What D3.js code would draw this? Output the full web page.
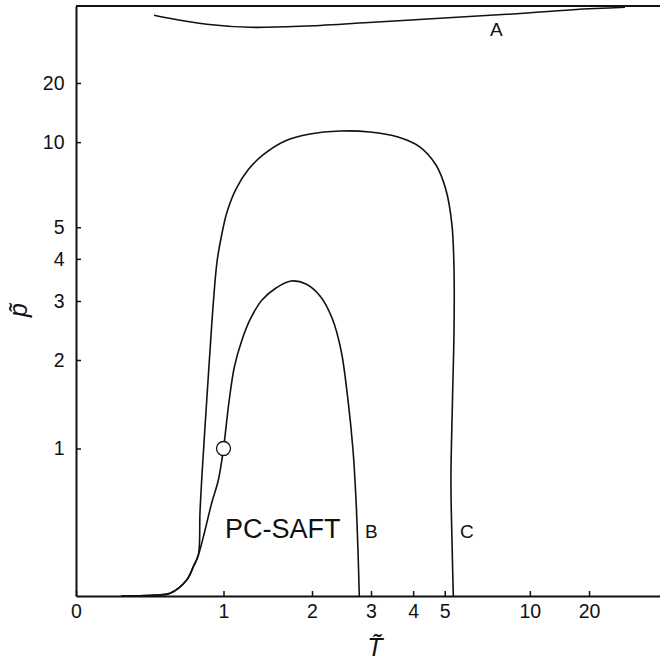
<!DOCTYPE html>
<html><head><meta charset="utf-8">
<script src="https://cdn.jsdelivr.net/npm/d3@7"></script>
<style>body{margin:0;background:#fff}svg{display:block}</style>
</head><body>
<svg id="chart" width="660" height="660"></svg>
<script>
// ---- data ----
const xTicks = [0, 1, 2, 3, 4, 5, 10, 20];
const yTicks = [1, 2, 3, 4, 5, 10, 20];

const lowT = [0.25, 0.30, 0.397, 0.475, 0.569, 0.693, 0.745, 0.785];
const lowP = [0, 0.0005, 0.002, 0.005, 0.014, 0.084, 0.157, 0.224];

const curveA_T = [0.457, 0.5925, 0.854, 1.255, 1.926, 3.041, 4.831, 8.11, 16.04, 40.2];
const curveA_p = [187, 133, 94, 80, 85.5, 106, 141, 210, 475, 1361];

const curveB_T = [0.84, 0.896, 0.954, 1.0, 1.048, 1.100, 1.170, 1.260, 1.381, 1.539, 1.72, 1.917, 2.116, 2.30, 2.446, 2.566, 2.655, 2.71, 2.746, 2.771];
const curveB_p = [0.378, 0.561, 0.734, 1.0, 1.45, 1.90, 2.28, 2.66, 3.02, 3.276, 3.436, 3.367, 3.104, 2.673, 2.145, 1.49, 0.987, 0.583, 0.254, 0];

const curveC_T = [0.798, 0.812, 0.854, 0.882, 0.912, 0.942, 0.978, 1.032, 1.116, 1.234, 1.392, 1.646, 1.972, 2.43, 2.98, 3.605, 4.196, 4.696, 5.045, 5.27, 5.35, 5.35, 5.29, 5.23, 5.27, 5.322];
const curveC_p = [0.491, 0.734, 1.49, 2.145, 3.02, 3.914, 4.63, 5.59, 6.67, 7.79, 8.88, 10.11, 10.83, 11.16, 11.05, 10.51, 9.55, 8.13, 6.62, 5.08, 3.70, 2.46, 1.49, 0.734, 0.315, 0];

const critPoint = [1, 1];

const labels = [
  {text: "A", T: 7.06, p: 55.9, size: 19, anchor: "start"},
  {text: "PC-SAFT", T: 1.013, p: 0.327, size: 27, anchor: "start"},
  {text: "B", T: 2.88, p: 0.327, size: 19, anchor: "start"},
  {text: "C", T: 5.59, p: 0.327, size: 19, anchor: "start"}
];

// ---- scales: v -> v/(v+3) ----
const K = 3;
function makeScale(lin) {
  const s = v => lin(v / (v + K));
  s.copy = () => makeScale(lin.copy());
  s.range = () => lin.range();
  s.domain = () => [0, Infinity];
  return s;
}
const xLin = d3.scaleLinear().domain([0, 1]).range([76, 666]);
const yLin = d3.scaleLinear().domain([0, 1]).range([596, 6]);
const x = makeScale(xLin);
const y = makeScale(yLin);

const svg = d3.select("#chart");
const FONT = "'Liberation Sans', Arial, Helvetica, sans-serif";

const zip = (a, b) => a.map((v, i) => [v, b[i]]);
const line = d3.line().x(d => x(d[0])).y(d => y(d[1])).curve(d3.curveCatmullRom.alpha(0.5));

const dataA = zip(curveA_T, curveA_p);
const dataB = zip(lowT, lowP).concat(zip(curveB_T, curveB_p));
const dataC = zip(lowT, lowP).concat(zip(curveC_T, curveC_p));

svg.selectAll("path.curve").data([dataA, dataB, dataC]).join("path")
  .attr("class", "curve")
  .attr("d", line)
  .attr("fill", "none")
  .attr("stroke", "#111")
  .attr("stroke-width", 1.6);

// top frame line
svg.append("line")
  .attr("x1", xLin.range()[0]).attr("x2", xLin.range()[1])
  .attr("y1", yLin.range()[1]).attr("y2", yLin.range()[1])
  .attr("stroke", "#111").attr("stroke-width", 2);

// axes
const gx = svg.append("g").attr("transform", `translate(0,${yLin.range()[0]})`)
  .call(d3.axisBottom(x).tickValues(xTicks).tickFormat(d3.format("d"))
    .tickSizeInner(-5).tickSizeOuter(0).tickPadding(8.5));
const gy = svg.append("g").attr("transform", `translate(${xLin.range()[0]},0)`)
  .call(d3.axisLeft(y).tickValues(yTicks).tickFormat(d3.format("d"))
    .tickSizeInner(-5).tickSizeOuter(0).tickPadding(11.5));
[gx, gy].forEach(g => {
  g.attr("font-family", FONT).attr("font-size", 19.5);
  g.select(".domain").attr("stroke", "#111").attr("stroke-width", 2);
  g.selectAll(".tick line").attr("stroke", "#111").attr("stroke-width", 1.5);
  g.selectAll(".tick text").attr("fill", "#111");
});

// critical point
svg.append("circle")
  .attr("cx", x(critPoint[0])).attr("cy", y(critPoint[1])).attr("r", 7)
  .attr("fill", "#fff").attr("stroke", "#111").attr("stroke-width", 1.3);

// labels
svg.selectAll("text.lbl").data(labels).join("text")
  .attr("class", "lbl")
  .attr("x", d => x(d.T)).attr("y", d => y(d.p))
  .attr("text-anchor", d => d.anchor)
  .attr("font-family", FONT).attr("font-size", d => d.size)
  .attr("fill", "#111")
  .text(d => d.text);

// axis titles (letter with combining tilde)
svg.append("text").attr("transform", "translate(375,656)")
  .attr("text-anchor", "middle")
  .attr("font-family", FONT).attr("fill", "#111")
  .attr("font-size", 25).attr("font-style", "italic").text("T\u0303");

svg.append("text").attr("transform", "translate(27,310) rotate(-90)")
  .attr("text-anchor", "middle")
  .attr("font-family", FONT).attr("fill", "#111")
  .attr("font-size", 25).attr("font-style", "italic").text("p\u0303");
</script>
</body></html>
